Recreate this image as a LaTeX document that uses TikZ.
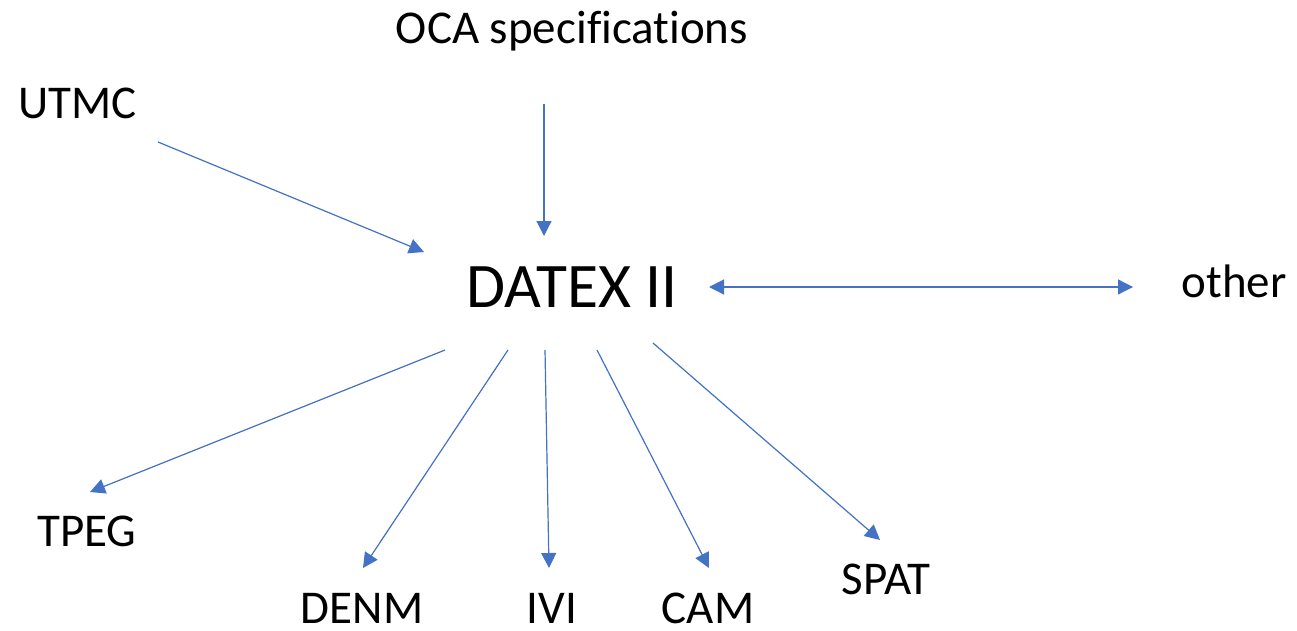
\documentclass[tikz,border=0pt]{standalone}
\usepackage{fontspec}
\setmainfont{Carlito}[Ligatures=NoCommon]
\usetikzlibrary{arrows.meta}
\definecolor{linkblue}{HTML}{4472C4}

\begin{document}
\begin{tikzpicture}[x=1pt, y=-1pt]
\tikzstyle{std}=[anchor=base, inner sep=0pt, font=\fontsize{47}{56}\selectfont]
\tikzstyle{hub}=[anchor=base, inner sep=0pt, font=\fontsize{63.5}{76}\selectfont]
\tikzstyle{connect}=[-{Triangle[length=15pt, width=15pt]}, draw=linkblue, fill=linkblue, line width=1.2pt]
\useasboundingbox (0,0) rectangle (1297,631);
  \node[hub] (datex) at (572,307.5) {DATEX II};
  \node[std] (oca) at (572,43.5) {OCA specifications};
  \node[std] (utmc) at (77.5,119) {UTMC};
  \node[std] (other) at (1234,297) {other};
  \node[std] (tpeg) at (87,546) {TPEG};
  \node[std] (denm) at (362,623) {DENM};
  \node[std] (ivi) at (552,623) {IVI};
  \node[std] (cam) at (708,623) {CAM};
  \node[std] (spat) at (886,594) {SPAT};
  % inputs
  \draw[connect] ([shift={(80.5,23)}]utmc.base) -- ([shift={(-148,-55.5)}]datex.base);
  \draw[connect] ([shift={(-28,60.5)}]oca.base) -- ([shift={(-28,-71.5)}]datex.base);
  \draw[connect, {Triangle[length=15pt, width=15pt]}-{Triangle[length=15pt, width=15pt]}]
    ([shift={(137,-20.5)}]datex.base) -- ([shift={(-101,-10)}]other.base);
  % outputs
  \draw[connect] ([shift={(-127,42.5)}]datex.base) -- ([shift={(3,-54)}]tpeg.base);
  \draw[connect] ([shift={(-64,42.5)}]datex.base) -- ([shift={(1,-55)}]denm.base);
  \draw[connect] ([shift={(-27,42.5)}]datex.base) -- ([shift={(-3,-55)}]ivi.base);
  \draw[connect] ([shift={(25,42.5)}]datex.base) -- ([shift={(1,-55)}]cam.base);
  \draw[connect] ([shift={(81,35.5)}]datex.base) -- ([shift={(-6,-54)}]spat.base);
\end{tikzpicture}
\end{document}
